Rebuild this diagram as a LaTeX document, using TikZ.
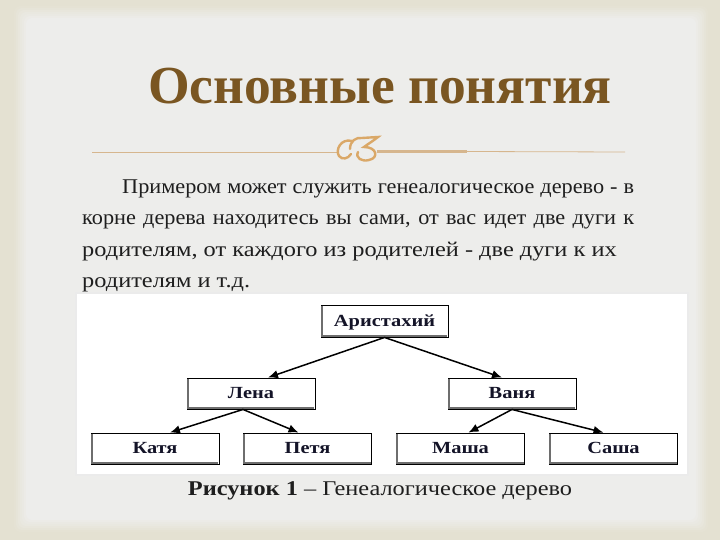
\documentclass[tikz,border=0pt]{standalone}
\usepackage{fontspec}
\setmainfont{Liberation Serif}
\newfontfamily\wideserif[FakeStretch=1.16]{Liberation Serif}
\newfontfamily\midserif[FakeStretch=1.06]{Liberation Serif}
\newfontfamily\boxserif[FakeStretch=1.2]{Liberation Serif}
\usetikzlibrary{arrows.meta,calc}
\definecolor{beige}{RGB}{228,225,210}
\definecolor{panel}{RGB}{237,237,235}
\definecolor{titlebrown}{RGB}{122,86,34}
\definecolor{orn}{RGB}{218,168,104}
\definecolor{ornline}{RGB}{214,182,142}
\definecolor{bodytext}{RGB}{30,30,30}
\definecolor{boxshade}{RGB}{110,110,110}
\definecolor{boxtext}{RGB}{20,20,40}
\tikzset{
  fam/.style={draw=black, line width=0.9pt, fill=white, minimum width=128pt, minimum height=31pt,
    inner sep=0pt, text height=11.5pt, text depth=1pt,
    font=\boxserif\fontsize{17}{17}\selectfont\bfseries, text=boxtext},
  arr/.style={line width=1.5pt, -{Latex[length=10pt,width=8.5pt]}},
  bodyline/.style={anchor=base west, inner sep=0pt, font=\wideserif\fontsize{21}{21}\selectfont, text=bodytext},
  bodylinej/.style={anchor=base west, inner sep=0pt, font=\midserif\fontsize{21}{21}\selectfont, text=bodytext},
}
\begin{document}
\begin{tikzpicture}[x=1pt,y=-1pt]
\useasboundingbox (0,0) rectangle (720,540);
\fill[beige] (0,0) rectangle (720,540);
% blurred inner panel
\foreach \i/\c in {0/10,1/25,2/40,3/55,4/70,5/85,6/100}{
  \fill[panel!\c!beige, rounded corners=6pt] ({14+2*\i},{6+2*\i}) rectangle ({708-2*\i},{532-2*\i});
}
% title
\node[anchor=base, inner sep=0pt, font=\fontsize{53.5}{53.5}\selectfont\bfseries, text=titlebrown] (title) at (380,104) {Основные понятия};
% ornamental rule
\coordinate (l1) at (92,152);
\coordinate (l2) at (338,152);
\coordinate (r1) at (377,151.5);
\coordinate (r2) at (467,151.5);
\coordinate (r3) at (625,152);
\draw[ornline, line width=0.8pt] (l1) -- (l2);
\draw[ornline, line width=2.2pt] (r1) -- (r2);
\draw[ornline, line width=0.8pt] (r2) -- (r3);
% ornament glyph
\draw[orn, line width=2.4pt, line cap=round] (352,141) .. controls (341,138) and (335,150) .. (339,156) .. controls (342,160) and (348,159) .. (351,154);
\draw[orn, line width=2.4pt, line cap=round] (350,149) .. controls (350,141) and (356,137) .. (362,138) -- (378,137) .. controls (373,141) and (368,144) .. (364,147)
  .. controls (377,147) and (379,158) .. (369,160) .. controls (362,162) and (355,158) .. (358,152);
% body text
\node[bodylinej] (b1) at (122,194) {\makebox[512pt][s]{Примером может служить генеалогическое дерево - в}};
\node[bodylinej] (b2) at (82,225) {\makebox[552pt][s]{корне дерева находитесь вы сами, от вас идет две дуги к}};
\node[bodyline] (b3) at (82,256) {родителям, от каждого из родителей - две дуги к их};
\node[bodyline] (b4) at (82,287) {родителям и т.д.};
% figure area
\draw[fill=white, draw=black!8, line width=1.5pt] (76,293) rectangle (688,475);
% tree nodes
\node[fam, minimum width=127pt, minimum height=32pt] (ar) at (384.5,321) {Аристахий};
\node[fam] (le) at (251,393.5) {Лена};
\node[fam] (va) at (512,393.5) {Ваня};
\node[fam] (ka) at (155,448.5) {Катя};
\node[fam] (pe) at (307.5,448.5) {Петя};
\node[fam] (ma) at (460.5,448.5) {Маша};
\node[fam] (sa) at (613.5,448.5) {Саша};
\foreach \n in {ar,le,va,ka,pe,ma,sa}{
  \draw[boxshade, line width=1.6pt] ([xshift=1.2pt,yshift=-1pt]\n.north west) -- ([xshift=1.2pt,yshift=1.2pt]\n.south west) -- ([xshift=-1pt,yshift=1.2pt]\n.south east);
}
% connectors
\draw[arr] (ar.south) -- ([xshift=17pt]le.north);
\draw[arr] (ar.south) -- ([xshift=-10pt]va.north);
\draw[arr] ([xshift=-8pt]le.south) -- ([xshift=15pt]ka.north);
\draw[arr] ([xshift=-8pt]le.south) -- ([xshift=-9pt]pe.north);
\draw[arr] (va.south) -- ([xshift=8pt]ma.north);
\draw[arr] (va.south) -- ([xshift=-10pt]sa.north);
% caption
\node[anchor=base, inner sep=0pt, font=\wideserif\fontsize{21}{21}\selectfont, text=bodytext] (cap) at (380,495) {\textbf{Рисунок 1} – Генеалогическое дерево};
\end{tikzpicture}
\end{document}
